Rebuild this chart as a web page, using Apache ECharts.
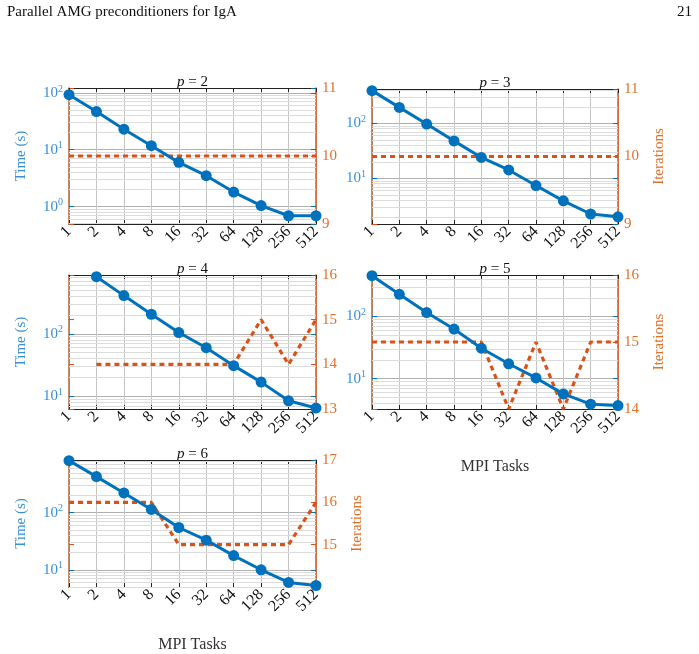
<!doctype html>
<html lang="en">
<head>
<meta charset="UTF-8">
<title>Parallel AMG preconditioners for IgA</title>
<script src="https://cdn.jsdelivr.net/npm/echarts@6/dist/echarts.min.js"></script>
<style>
    html, body { margin: 0; padding: 0; background: #fff; }
    #main { width: 699px; height: 654px; }
</style>
</head>
<body>
<div id="main"></div>
<script>
    // MPI tasks (x categories)
    var tasks = ['1', '2', '4', '8', '16', '32', '64', '128', '256', '512'];

    // time (s) per panel
    var timeP2 = [93, 47, 23, 11.8, 6.0, 3.5, 1.8, 1.04, 0.69, 0.69];
    var timeP3 = [393, 195, 97, 48, 24, 14.2, 7.4, 3.9, 2.25, 2.0];
    var timeP4 = [null, 822, 409, 206, 105, 60, 31, 16.9, 8.5, 6.5];
    var timeP5 = [455, 228, 116, 63, 31, 17.4, 10.3, 5.7, 3.9, 3.7];
    var timeP6 = [817, 429, 222, 114, 55, 33, 17.7, 10, 6.0, 5.3];

    // iterations per panel
    var itP2 = [10, 10, 10, 10, 10, 10, 10, 10, 10, 10];
    var itP3 = [10, 10, 10, 10, 10, 10, 10, 10, 10, 10];
    var itP4 = [null, 14, 14, 14, 14, 14, 14, 15, 14, 15];
    var itP5 = [15, 15, 15, 15, 15, 14, 15, 14, 15, 15];
    var itP6 = [16, 16, 16, 16, 15, 15, 15, 15, 15, 16];

    var panels = [
        {p: 2, time: timeP2, it: itP2, tmin: 0.494, tmax: 122, imin: 9, imax: 11, timeName: true, itName: false, xName: false},
        {p: 3, time: timeP3, it: itP3, tmin: 1.48, tmax: 421, imin: 9, imax: 11, timeName: false, itName: true, xName: false},
        {p: 4, time: timeP4, it: itP4, tmin: 6.28, tmax: 874, imin: 13, imax: 16, timeName: true, itName: false, xName: false},
        {p: 5, time: timeP5, it: itP5, tmin: 3.26, tmax: 466, imin: 14, imax: 16, timeName: false, itName: true, xName: true},
        {p: 6, time: timeP6, it: itP6, tmin: 4.99, tmax: 838, imin: 14, imax: 17, timeName: true, itName: true, xName: true, hideItMin: true}
    ];

    // plot boxes (px)
    var boxes = [
        {left: 69, top: 88, width: 247, height: 136},
        {left: 372, top: 89, width: 246, height: 135},
        {left: 69, top: 275, width: 247, height: 134},
        {left: 372, top: 275, width: 246, height: 134},
        {left: 69, top: 460, width: 247, height: 135}
    ];

    var BLUE = '#0072BD', BLUE_TXT = '#3a8fd6', ORANGE = '#D95319', ORANGE_TXT = '#e0702a';
    var SERIF = '"Liberation Serif", "DejaVu Serif", serif';
    var minorMul = [2, 3, 4, 5, 6, 7, 8, 9];

    function logLabel(v) {
        var e = Math.log10(v);
        var r = Math.round(e);
        if (Math.abs(e - r) > 1e-6) return '';
        return '{b|10}{s|' + r + '}';
    }

    function minorValues(lo, hi) {
        var out = [];
        for (var k = Math.floor(Math.log10(lo)); k <= Math.ceil(Math.log10(hi)); k++) {
            minorMul.forEach(function (m) {
                var v = m * Math.pow(10, k);
                if (v > lo && v < hi) out.push({yAxis: v});
            });
        }
        return out;
    }

    var grid = [], xAxis = [], yAxis = [], series = [], graphic = [];

    panels.forEach(function (pn, i) {
        var b = boxes[i];
        grid.push({left: b.left, top: b.top, width: b.width, height: b.height, containLabel: false});

        // bottom axis with labels
        xAxis.push({
            type: 'category', gridIndex: i, data: tasks, boundaryGap: false, position: 'bottom',
            name: pn.xName ? 'MPI Tasks' : '', nameLocation: 'middle', nameGap: 50,
            nameTextStyle: {fontFamily: SERIF, fontSize: 16, color: '#333'},
            axisLine: {lineStyle: {color: '#222', width: 1}},
            axisTick: {inside: true, length: 4, alignWithLabel: true, lineStyle: {color: '#222'}},
            axisLabel: {rotate: 45, fontFamily: SERIF, fontSize: 16, color: '#111', margin: 5, interval: 0},
            splitLine: {show: true, lineStyle: {color: '#c4c4c4', width: 1}}
        });
        // top axis, box edge only
        xAxis.push({
            type: 'category', gridIndex: i, data: tasks, boundaryGap: false, position: 'top',
            axisLine: {lineStyle: {color: '#222', width: 1}},
            axisTick: {inside: true, length: 4, lineStyle: {color: '#222'}},
            axisLabel: {show: false}, splitLine: {show: false}
        });

        var yl = yAxis.length;
        yAxis.push({
            type: 'log', gridIndex: i, position: 'left', min: pn.tmin, max: pn.tmax, logBase: 10,
            name: pn.timeName ? 'Time (s)' : '', nameLocation: 'middle', nameGap: 40,
            nameTextStyle: {fontFamily: SERIF, fontSize: 15, color: BLUE_TXT},
            axisLine: {show: true, lineStyle: {color: '#a8683e', width: 1.5}},
            axisTick: {show: true, inside: true, length: 5, lineStyle: {color: BLUE}},
            axisLabel: {
                showMinLabel: false, showMaxLabel: false, margin: 6,
                formatter: logLabel,
                rich: {
                    b: {fontFamily: SERIF, fontSize: 15, color: BLUE_TXT},
                    s: {fontFamily: SERIF, fontSize: 10, color: BLUE_TXT, verticalAlign: 'top', padding: [0, 0, 8, 0]}
                }
            },
            splitLine: {show: true, lineStyle: {color: '#b0b0b0', width: 1}}
        });
        var yr = yAxis.length;
        yAxis.push({
            type: 'value', gridIndex: i, position: 'right', min: pn.imin, max: pn.imax, interval: 1,
            name: pn.itName ? 'Iterations' : '', nameLocation: 'middle', nameGap: 34,
            nameTextStyle: {fontFamily: SERIF, fontSize: 15, color: ORANGE_TXT},
            axisLine: {show: true, lineStyle: {color: ORANGE, width: 1.5}},
            axisTick: {show: true, inside: true, length: 5, lineStyle: {color: ORANGE}},
            axisLabel: {fontFamily: SERIF, fontSize: 15, color: ORANGE_TXT, margin: 6, showMinLabel: !pn.hideItMin},
            splitLine: {show: false}
        });
        // mirrored ticks: blue decades on the right, orange iterations on the left
        yAxis.push({
            type: 'log', gridIndex: i, position: 'right', min: pn.tmin, max: pn.tmax, logBase: 10,
            axisLine: {show: false}, axisLabel: {show: false}, splitLine: {show: false},
            axisTick: {show: true, inside: true, length: 5, lineStyle: {color: BLUE}}
        });
        yAxis.push({
            type: 'value', gridIndex: i, position: 'left', min: pn.imin, max: pn.imax, interval: 1,
            axisLine: {show: false}, axisLabel: {show: false}, splitLine: {show: false},
            axisTick: {show: true, inside: true, length: 5, lineStyle: {color: ORANGE}}
        });

        // minor log grid lines
        series.push({
            type: 'line', xAxisIndex: 2 * i, yAxisIndex: yl, data: [], z: 1, silent: true,
            markLine: {
                silent: true, symbol: 'none', label: {show: false}, animation: false, z: 1,
                lineStyle: {color: '#dcdcdc', width: 1, type: 'solid'},
                data: minorValues(pn.tmin, pn.tmax)
            }
        });

        series.push({
            name: 'Iterations p=' + pn.p, type: 'line', xAxisIndex: 2 * i, yAxisIndex: yr,
            data: pn.it, symbol: 'none', z: 3, animation: false,
            lineStyle: {color: ORANGE, width: 3.2, type: [5, 4]}
        });
        series.push({
            name: 'Time p=' + pn.p, type: 'line', xAxisIndex: 2 * i, yAxisIndex: yl,
            data: pn.time, symbol: 'circle', symbolSize: 11, z: 4, animation: false,
            itemStyle: {color: BLUE}, lineStyle: {color: BLUE, width: 3}
        });

        graphic.push({
            type: 'text', x: b.left + b.width / 2, y: b.top + 2,
            style: {
                text: '{i|p} = ' + pn.p, textAlign: 'center', textVerticalAlign: 'bottom',
                fontFamily: SERIF, fontSize: 15, fill: '#111',
                rich: {i: {fontFamily: SERIF, fontSize: 15, fontStyle: 'italic', color: '#111'}}
            }
        });
    });

    // page header
    graphic.push({type: 'text', x: 7, y: 5, style: {text: 'Parallel AMG preconditioners for IgA', fontFamily: SERIF, fontSize: 15, fill: '#111'}});
    graphic.push({type: 'text', x: 692, y: 5, style: {text: '21', textAlign: 'right', fontFamily: SERIF, fontSize: 15, fill: '#111'}});

    var myChart = echarts.init(document.getElementById('main'), null, {renderer: 'canvas'});
    myChart.setOption({
        backgroundColor: '#fff',
        animation: false,
        grid: grid,
        xAxis: xAxis,
        yAxis: yAxis,
        series: series,
        graphic: graphic
    });
</script>
</body>
</html>
